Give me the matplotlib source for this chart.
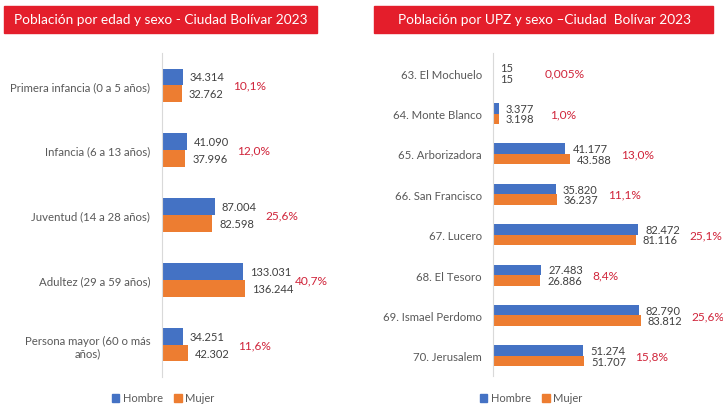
import numpy as np
import matplotlib
matplotlib.use("Agg")
import matplotlib.pyplot as plt
from matplotlib.patches import Patch

plt.rcParams['font.family'] = ['Lato', 'DejaVu Sans']

# left chart: population by age group
edad_cats = ['Primera infancia (0 a 5 años)', 'Infancia (6 a 13 años)',
             'Juventud (14 a 28 años)', 'Adultez (29 a 59 años)',
             'Persona mayor (60 o más\naños)']
edad_hombre = [34314, 41090, 87004, 133031, 34251]
edad_mujer = [32762, 37996, 82598, 136244, 42302]
edad_pct = ['10,1%', '12,0%', '25,6%', '40,7%', '11,6%']

# right chart: population by UPZ
upz_cats = ['63. El Mochuelo', '64. Monte Blanco', '65. Arborizadora',
            '66. San Francisco', '67. Lucero', '68. El Tesoro',
            '69. Ismael Perdomo', '70. Jerusalem']
upz_hombre = [15, 3377, 41177, 35820, 82472, 27483, 82790, 51274]
upz_mujer = [15, 3198, 43588, 36237, 81116, 26886, 83812, 51707]
upz_pct = ['0,005%', '1,0%', '13,0%', '11,1%', '25,1%', '8,4%', '25,6%', '15,8%']

BLUE = '#4472C4'
ORANGE = '#ED7D31'
RED = '#D0243A'
TXT = '#404040'
W, H = 723, 406

fig = plt.figure(figsize=(W / 100, H / 100), dpi=100)


def fmt(v):
    return f'{v:,}'.replace(',', '.')


def px_axes(x0, y0, x1, y1):
    return fig.add_axes([x0 / W, 1 - y1 / H, (x1 - x0) / W, (y1 - y0) / H])


def panel(ax, cats, hom, muj, pct, bh, pct_off, pad):
    y = np.arange(len(cats))
    ax.barh(y - bh / 2, hom, height=bh, color=BLUE)
    ax.barh(y + bh / 2, muj, height=bh, color=ORANGE)
    for i in range(len(cats)):
        ax.annotate(fmt(hom[i]), (hom[i], y[i] - bh / 2), xytext=(5, 0),
                    textcoords='offset points', va='center', ha='left',
                    fontsize=8, color=TXT, annotation_clip=False)
        ax.annotate(fmt(muj[i]), (muj[i], y[i] + bh / 2), xytext=(5, 0),
                    textcoords='offset points', va='center', ha='left',
                    fontsize=8, color=TXT, annotation_clip=False)
        ax.annotate(pct[i], (max(hom[i], muj[i]), y[i]), xytext=(pct_off, 0),
                    textcoords='offset points', va='center', ha='left',
                    fontsize=8.6, color=RED, annotation_clip=False)
    ax.set_yticks(y)
    ax.set_yticklabels(cats, fontsize=8.2, color='#595959', multialignment='center')
    ax.tick_params(axis='y', length=0, pad=pad)
    ax.set_ylim(len(cats) - 0.5, -0.5)
    ax.set_xticks([])
    for s in ['top', 'right', 'bottom']:
        ax.spines[s].set_visible(False)
    ax.spines['left'].set_color('#D9D9D9')
    ax.patch.set_alpha(0)


# left panel
ax1 = px_axes(162, 54, 162 + 280000 * 0.000609, 378)
ax1.set_xlim(0, 280000)
panel(ax1, edad_cats, edad_hombre, edad_mujer, edad_pct, 0.26, 36, 8.5)

# right panel
ax2 = px_axes(493, 54, 493 + 130000 * 0.00176, 377)
ax2.set_xlim(0, 130000)
panel(ax2, upz_cats, upz_hombre, upz_mujer, upz_pct, 0.26, 37, 8)

handles = [Patch(color=BLUE, label='Hombre'), Patch(color=ORANGE, label='Mujer')]
for ax, cx in [(ax1, 163), (ax2, 531)]:
    fig.legend(handles=handles, loc='center', bbox_to_anchor=(cx / W, 1 - 399 / H),
               ncol=2, frameon=False, fontsize=8, handlelength=0.7,
               handleheight=0.7, handletextpad=0.3, columnspacing=1.0,
               labelcolor='#595959')

# title boxes
fig.text(161 / W, 1 - 20.5 / H, 'Población por edad y sexo - Ciudad Bolívar 2023',
         ha='center', va='center', color='white', fontsize=9.8)
fig.text(545 / W, 1 - 20.5 / H, 'Población por UPZ y sexo \u2013Ciudad  Bolívar 2023',
         ha='center', va='center', color='white', fontsize=9.8)
for x0, x1 in [(4, 317), (374, 713)]:
    fig.patches.append(plt.Rectangle((x0 / W, 1 - 34 / H), (x1 - x0) / W, 27 / H,
                                     transform=fig.transFigure, color='#E41E2B',
                                     zorder=-1))

fig.savefig('out.png', dpi=100)
